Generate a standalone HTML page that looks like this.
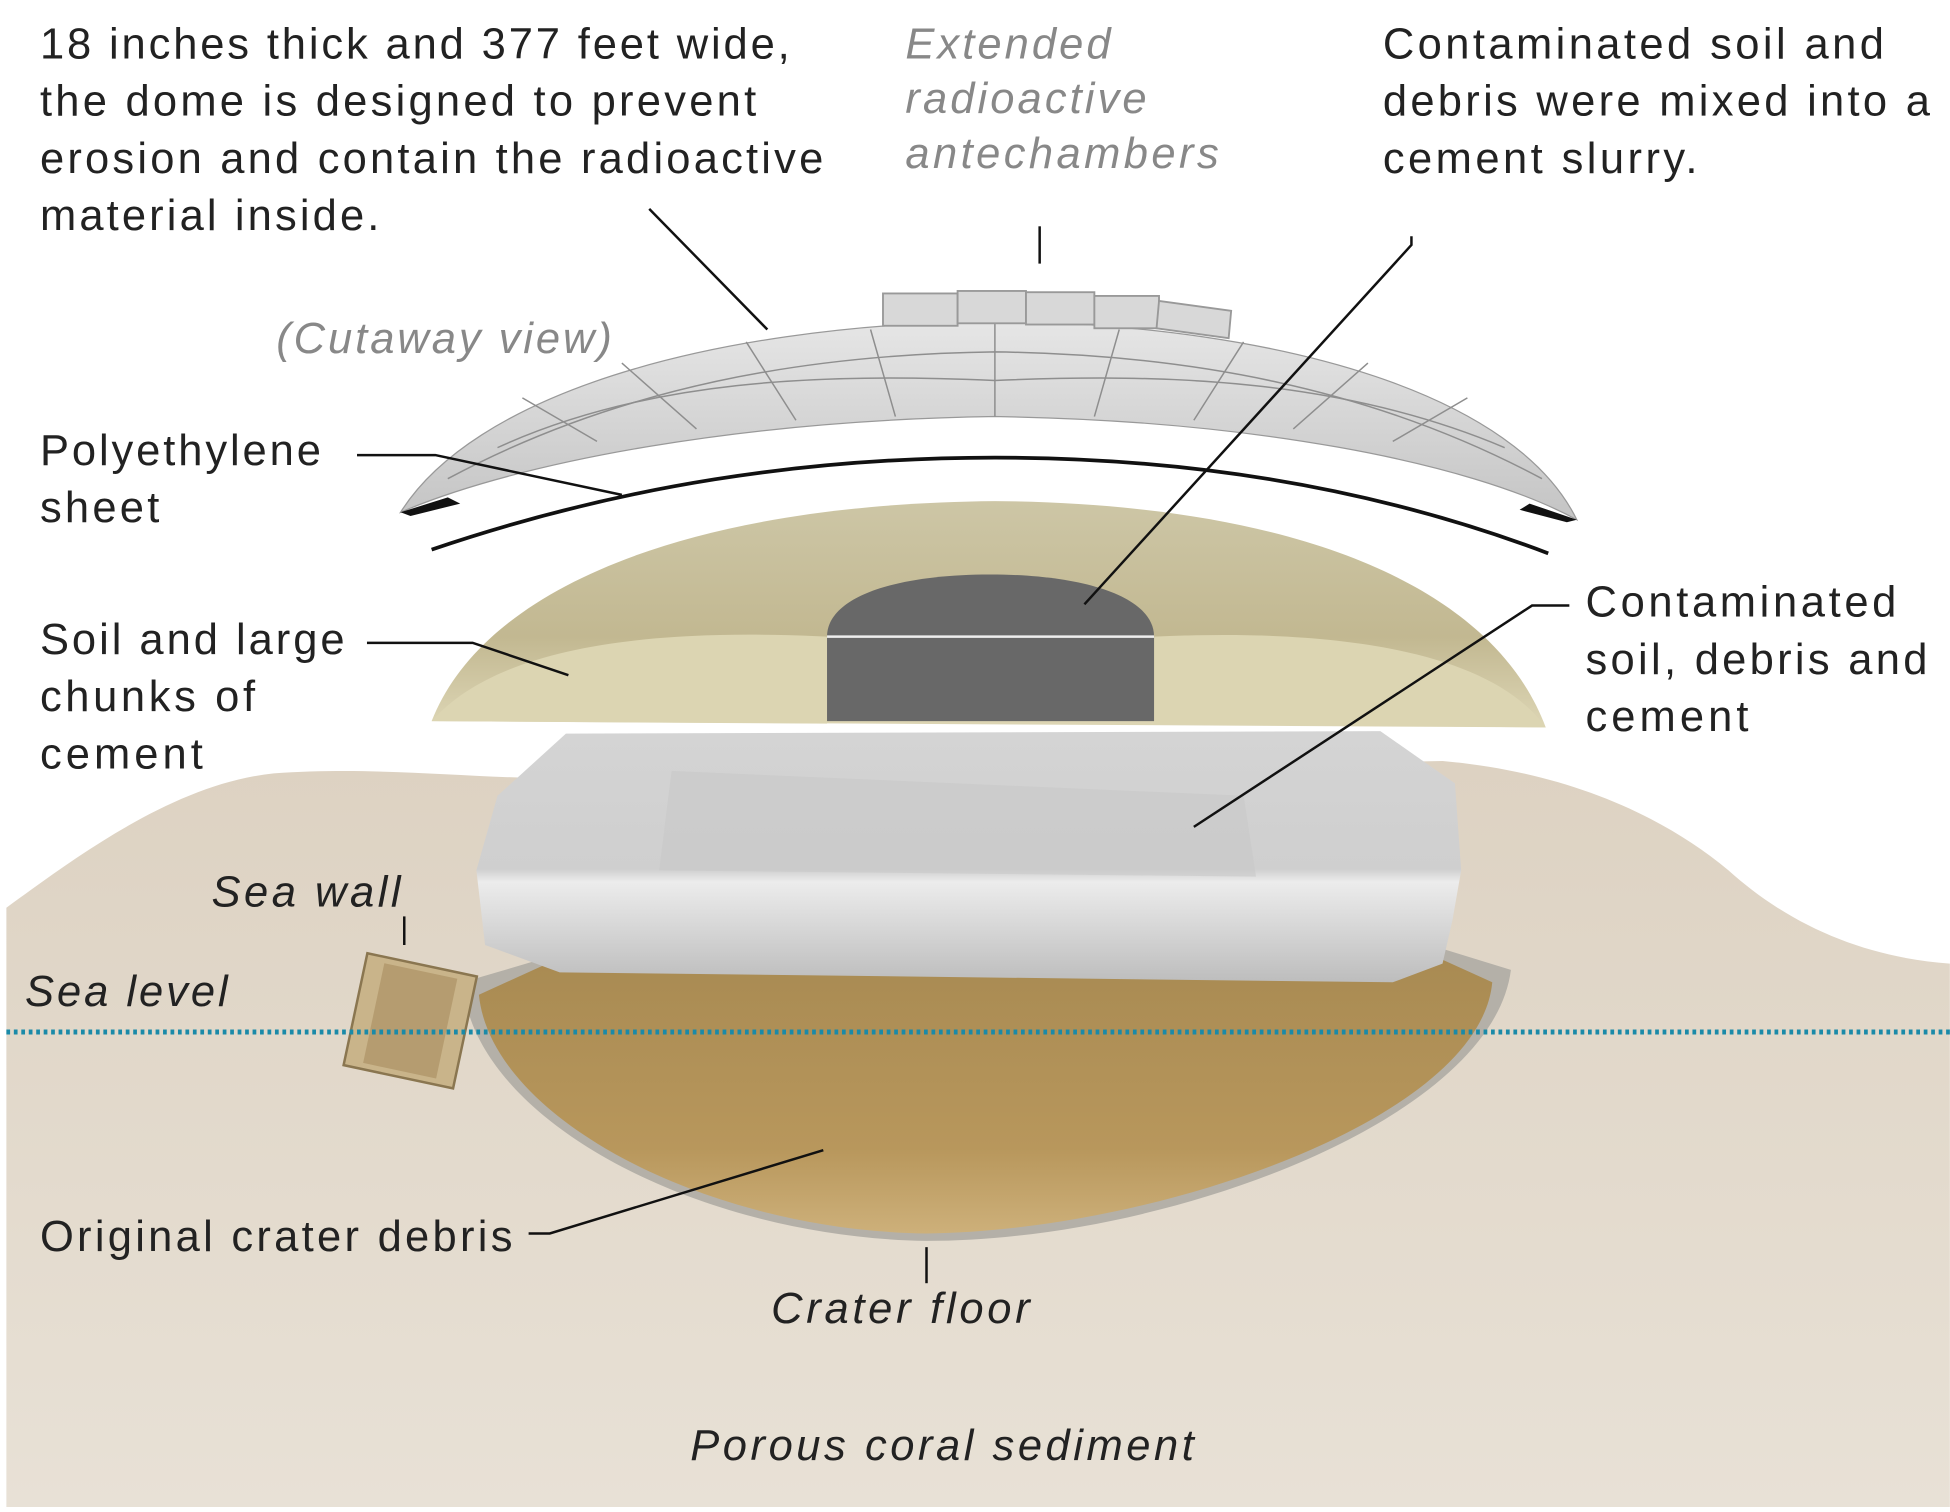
<!DOCTYPE html>
<html><head><meta charset="utf-8"><style>
html,body{margin:0;padding:0;background:#fff;}
svg{display:block;}
text{font-family:"Liberation Sans",sans-serif;}
</style></head><body>
<svg width="1950" height="1512" viewBox="0 0 1568 1216" xmlns="http://www.w3.org/2000/svg">
<defs>
<linearGradient id="ground" x1="0" y1="0" x2="0" y2="1"><stop offset="0" stop-color="#ddd2c2"/><stop offset="1" stop-color="#e8e1d6"/></linearGradient>
<linearGradient id="crater" x1="0" y1="0" x2="0" y2="1"><stop offset="0" stop-color="#a88a52"/><stop offset="0.7" stop-color="#b8975c"/><stop offset="1" stop-color="#cdb07a"/></linearGradient>
<linearGradient id="soil" x1="0" y1="0" x2="0" y2="1"><stop offset="0" stop-color="#cdc6a6"/><stop offset="0.6" stop-color="#c2b891"/><stop offset="1" stop-color="#ddd6b5"/></linearGradient>
<linearGradient id="dome" x1="0" y1="0" x2="0" y2="1"><stop offset="0" stop-color="#e6e6e6"/><stop offset="1" stop-color="#c4c4c4"/></linearGradient>
<linearGradient id="slab" x1="0" y1="0" x2="0" y2="1"><stop offset="0" stop-color="#d4d4d4"/><stop offset="0.55" stop-color="#cfcfcf"/><stop offset="0.6" stop-color="#ececec"/><stop offset="1" stop-color="#bdbdbd"/></linearGradient>
</defs>
<path d="M5,730 C60,690 140,630 220,622 C320,615 400,630 500,625 L1160,612 C1250,620 1330,650 1390,700 C1440,745 1500,770 1568,775 L1568,1212 L5,1212 Z" fill="url(#ground)"/>
<path d="M372,790 C380,900 560,995 745,998 C940,998 1200,900 1215,780 L1150,760 L440,770 Z" fill="#b4b0a8"/>
<path d="M385,800 C395,900 570,990 745,992 C930,990 1190,900 1200,790 L1145,765 L440,775 Z" fill="url(#crater)"/>
<g transform="rotate(12 330 820)"><rect x="285" y="775" width="90" height="92" fill="#c9b48a" stroke="#8a7650" stroke-width="2"/><rect x="300" y="780" width="60" height="82" fill="#b59c70"/></g>
<path d="M455,590 L1110,588 L1170,630 L1175,700 L1168,740 L1160,775 L1120,790 L450,782 L390,760 L383,700 L400,640 Z" fill="url(#slab)"/>
<path d="M530,700 L1010,705 L1000,640 L540,620 Z" fill="#c8c8c8" opacity="0.6"/>
<line x1="5" y1="830" x2="1568" y2="830" stroke="#1a8aa8" stroke-width="4" stroke-dasharray="3,3"/>
<path d="M347,580 C390,470 560,405 800,403 C1040,405 1200,470 1243,585 Z" fill="url(#soil)"/>
<path d="M347,580 C400,520 520,505 665,512 L665,582 Z M928,512 C1080,505 1200,525 1243,585 L928,582 Z" fill="#dcd5b2"/>
<path d="M665,512 C665,480 720,462 796,462 C872,462 928,480 928,512 L928,580 L665,580 Z" fill="#686868"/>
<line x1="665" y1="512" x2="928" y2="512" stroke="#eee" stroke-width="2"/>
<path d="M347,442 C500,390 650,368 800,368 C950,368 1100,390 1245,445" fill="none" stroke="#111" stroke-width="3"/>
<path d="M322,412 C380,320 560,262 800,258 C1040,262 1220,320 1268,418 C1180,370 1000,338 800,335 C600,338 420,370 322,412 Z" fill="url(#dome)" stroke="#999" stroke-width="1"/>
<g stroke="#8e8e8e" stroke-width="1.2" fill="none">
<path d="M360,385 C500,310 650,285 800,283 C950,285 1100,310 1240,385"/>
<path d="M400,360 C520,305 660,300 800,306 C940,300 1080,305 1210,360"/>
<path d="M800,258 L800,335 M700,265 L720,335 M600,275 L640,338 M500,292 L560,345 M420,320 L480,355 M900,265 L880,335 M1000,275 L960,338 M1100,292 L1040,345 M1180,320 L1120,355"/>
</g>
<path d="M322,412 L360,400 L370,405 L330,415 Z M1268,418 L1230,405 L1222,410 L1260,420 Z" fill="#111"/>
<g fill="#d8d8d8" stroke="#999" stroke-width="1.5">
<rect x="710" y="236" width="60" height="26"/><rect x="770" y="234" width="55" height="26"/><rect x="825" y="235" width="55" height="26"/><rect x="880" y="238" width="52" height="26"/><path d="M932,242 L990,250 L988,272 L930,264 Z"/>
</g>
<g stroke="#111" stroke-width="2" fill="none">
<path d="M522,168 L617,265"/>
<path d="M836,182 L836,212"/>
<path d="M1135,190 L1135,197 L872,486"/>
<path d="M287,366 L350,366 L500,398"/>
<path d="M295,517 L380,517 L457,543"/>
<path d="M1262,487 L1232,487 L960,665"/>
<path d="M325,737 L325,760"/>
<path d="M425,992 L442,992 L662,925"/>
<path d="M745,1003 L745,1032"/>
</g>
<g font-size="35" fill="#222" lengthAdjust="spacing">
<text x="32" y="47" textLength="603">18 inches thick and 377 feet wide,</text>
<text x="32" y="93" textLength="576">the dome is designed to prevent</text>
<text x="32" y="139" textLength="630">erosion and contain the radioactive</text>
<text x="32" y="185" textLength="273">material inside.</text>
<text x="1112" y="47" textLength="403">Contaminated soil and</text>
<text x="1112" y="93" textLength="440">debris were mixed into a</text>
<text x="1112" y="139" textLength="253">cement slurry.</text>
<text x="32" y="374" textLength="226">Polyethylene</text>
<text x="32" y="420" textLength="96">sheet</text>
<text x="32" y="526" textLength="245">Soil and large</text>
<text x="32" y="572" textLength="173">chunks of</text>
<text x="32" y="618" textLength="131">cement</text>
<text x="1275" y="496" textLength="250">Contaminated</text>
<text x="1275" y="542" textLength="275">soil, debris and</text>
<text x="1275" y="588" textLength="131">cement</text>
<text x="32" y="1006" textLength="380">Original crater debris</text>
</g>
<g font-size="35" fill="#888" font-style="italic">
<text x="728" y="47" textLength="165">Extended</text>
<text x="728" y="91" textLength="194">radioactive</text>
<text x="728" y="135" textLength="252">antechambers</text>
<text x="222" y="284" textLength="270">(Cutaway view)</text>
</g>
<g font-size="35" fill="#222" font-style="italic">
<text x="170" y="729" textLength="152">Sea wall</text>
<text x="20" y="809" textLength="163">Sea level</text>
<text x="620" y="1064" textLength="208">Crater floor</text>
<text x="555" y="1174" textLength="405">Porous coral sediment</text>
</g>
</svg>
</body></html>
